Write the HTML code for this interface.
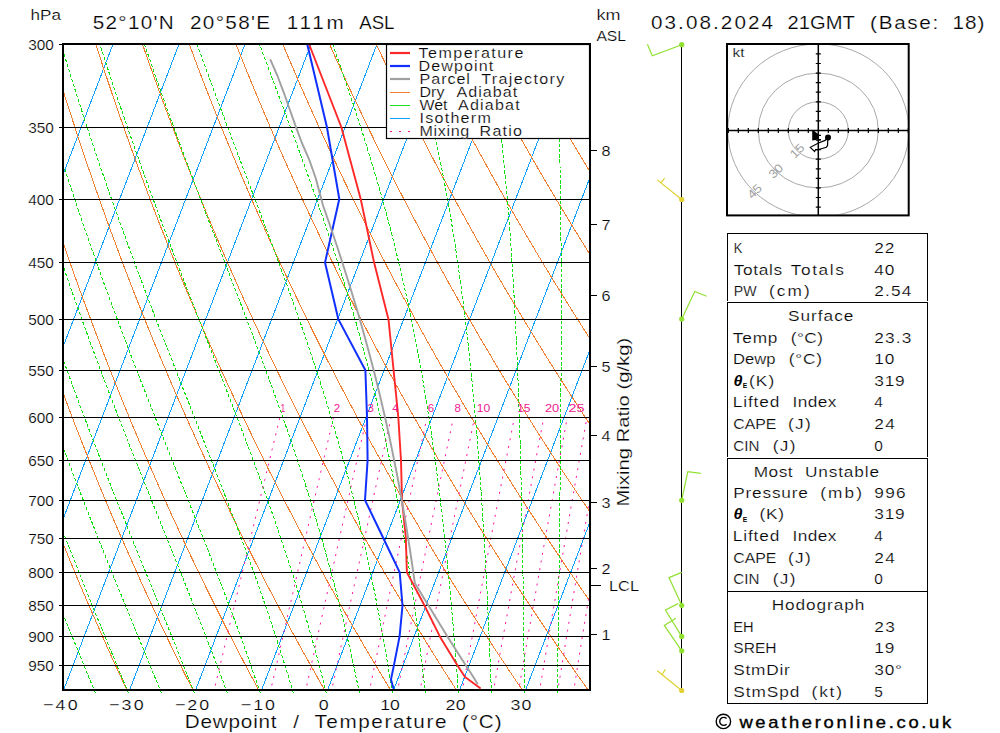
<!DOCTYPE html>
<html><head><meta charset="utf-8"><style>
html,body{margin:0;padding:0;background:#fff;width:1000px;height:733px;overflow:hidden}
svg{display:block}
text{font-family:"Liberation Sans",sans-serif;stroke:#fff;stroke-width:0.2px}
text.ft{stroke:#000;stroke-width:0.35px}
text.ne{stroke:none}
</style></head><body>
<svg width="1000" height="733" viewBox="0 0 1000 733"><defs><clipPath id="pc"><rect x="63" y="44" width="527" height="645.5"/></clipPath><clipPath id="pc2"><rect x="63" y="44" width="527" height="650.5"/></clipPath></defs>
<g clip-path="url(#pc)" stroke="#10a0ff" stroke-width="1" fill="none" shape-rendering="crispEdges"><line x1="-468.2" y1="700" x2="-215.4" y2="40"/><line x1="-402.2" y1="700" x2="-149.4" y2="40"/><line x1="-336.2" y1="700" x2="-83.4" y2="40"/><line x1="-270.2" y1="700" x2="-17.4" y2="40"/><line x1="-204.2" y1="700" x2="48.6" y2="40"/><line x1="-138.2" y1="700" x2="114.6" y2="40"/><line x1="-72.2" y1="700" x2="180.6" y2="40"/><line x1="-6.2" y1="700" x2="246.6" y2="40"/><line x1="59.8" y1="700" x2="312.6" y2="40"/><line x1="125.8" y1="700" x2="378.6" y2="40"/><line x1="191.8" y1="700" x2="444.6" y2="40"/><line x1="257.8" y1="700" x2="510.6" y2="40"/><line x1="323.8" y1="700" x2="576.6" y2="40"/><line x1="389.8" y1="700" x2="642.6" y2="40"/><line x1="455.8" y1="700" x2="708.6" y2="40"/><line x1="521.8" y1="700" x2="774.6" y2="40"/><line x1="587.8" y1="700" x2="840.6" y2="40"/><line x1="653.8" y1="700" x2="906.6" y2="40"/></g>
<g clip-path="url(#pc)" stroke="#f08030" stroke-width="1" fill="none" shape-rendering="crispEdges"><polyline points="-138,44.2 -133.5,66.6 -128.9,89 -124.1,111.3 -119.1,133.7 -114,156.1 -108.8,178.5 -103.3,200.8 -97.7,223.2 -92,245.6 -86,268 -79.9,290.4 -73.6,312.7 -67.1,335.1 -60.5,357.5 -53.6,379.9 -46.6,402.2 -39.4,424.6 -32,447 -24.4,469.4 -16.7,491.7 -8.7,514.1 -0.5,536.5 7.8,558.9 16.4,581.3 25.2,603.6 34.2,626 43.4,648.4 52.8,670.8 62.4,693.1" /><polyline points="-91.2,44.2 -86.2,66.6 -81,89 -75.6,111.3 -70.1,133.7 -64.4,156.1 -58.6,178.5 -52.5,200.8 -46.3,223.2 -39.9,245.6 -33.4,268 -26.6,290.4 -19.7,312.7 -12.6,335.1 -5.3,357.5 2.2,379.9 9.9,402.2 17.8,424.6 25.9,447 34.2,469.4 42.6,491.7 51.3,514.1 60.2,536.5 69.3,558.9 78.6,581.3 88.1,603.6 97.9,626 107.8,648.4 118,670.8 128.4,693.1" /><polyline points="-44.5,44.2 -38.9,66.6 -33.1,89 -27.2,111.3 -21.1,133.7 -14.8,156.1 -8.4,178.5 -1.7,200.8 5.1,223.2 12.1,245.6 19.3,268 26.7,290.4 34.2,312.7 42,335.1 50,357.5 58.1,379.9 66.5,402.2 75,424.6 83.8,447 92.8,469.4 101.9,491.7 111.3,514.1 120.9,536.5 130.8,558.9 140.8,581.3 151.1,603.6 161.6,626 172.3,648.4 183.2,670.8 194.4,693.1" /><polyline points="2.3,44.2 8.4,66.6 14.7,89 21.2,111.3 27.9,133.7 34.8,156.1 41.8,178.5 49.1,200.8 56.5,223.2 64.1,245.6 71.9,268 79.9,290.4 88.2,312.7 96.6,335.1 105.2,357.5 114,379.9 123,402.2 132.2,424.6 141.7,447 151.4,469.4 161.2,491.7 171.3,514.1 181.7,536.5 192.2,558.9 203,581.3 214,603.6 225.2,626 236.7,648.4 248.4,670.8 260.4,693.1" /><polyline points="49,44.2 55.7,66.6 62.6,89 69.7,111.3 77,133.7 84.4,156.1 92.1,178.5 99.9,200.8 107.9,223.2 116.2,245.6 124.6,268 133.2,290.4 142.1,312.7 151.1,335.1 160.4,357.5 169.9,379.9 179.6,402.2 189.5,424.6 199.6,447 209.9,469.4 220.5,491.7 231.3,514.1 242.4,536.5 253.7,558.9 265.2,581.3 276.9,603.6 288.9,626 301.2,648.4 313.7,670.8 326.4,693.1" /><polyline points="95.8,44.2 103,66.6 110.5,89 118.1,111.3 126,133.7 134,156.1 142.3,178.5 150.7,200.8 159.3,223.2 168.2,245.6 177.2,268 186.5,290.4 196,312.7 205.7,335.1 215.6,357.5 225.7,379.9 236.1,402.2 246.7,424.6 257.5,447 268.5,469.4 279.8,491.7 291.4,514.1 303.1,536.5 315.1,558.9 327.4,581.3 339.9,603.6 352.6,626 365.6,648.4 378.9,670.8 392.4,693.1" /><polyline points="142.5,44.2 150.3,66.6 158.4,89 166.6,111.3 175,133.7 183.6,156.1 192.5,178.5 201.5,200.8 210.7,223.2 220.2,245.6 229.9,268 239.8,290.4 249.9,312.7 260.2,335.1 270.8,357.5 281.6,379.9 292.6,402.2 303.9,424.6 315.4,447 327.1,469.4 339.1,491.7 351.4,514.1 363.8,536.5 376.6,558.9 389.6,581.3 402.8,603.6 416.3,626 430.1,648.4 444.1,670.8 458.4,693.1" /><polyline points="189.3,44.2 197.6,66.6 206.2,89 215,111.3 224,133.7 233.2,156.1 242.7,178.5 252.3,200.8 262.2,223.2 272.2,245.6 282.5,268 293.1,290.4 303.8,312.7 314.8,335.1 326,357.5 337.5,379.9 349.2,402.2 361.1,424.6 373.3,447 385.7,469.4 398.4,491.7 411.4,514.1 424.6,536.5 438,558.9 451.7,581.3 465.7,603.6 480,626 494.5,648.4 509.3,670.8 524.4,693.1" /><polyline points="236,44.2 244.9,66.6 254.1,89 263.5,111.3 273,133.7 282.8,156.1 292.9,178.5 303.1,200.8 313.6,223.2 324.3,245.6 335.2,268 346.3,290.4 357.7,312.7 369.4,335.1 381.2,357.5 393.4,379.9 405.7,402.2 418.3,424.6 431.2,447 444.3,469.4 457.7,491.7 471.4,514.1 485.3,536.5 499.5,558.9 513.9,581.3 528.7,603.6 543.7,626 559,648.4 574.5,670.8 590.4,693.1" /><polyline points="282.7,44.2 292.3,66.6 302,89 311.9,111.3 322.1,133.7 332.5,156.1 343.1,178.5 353.9,200.8 365,223.2 376.3,245.6 387.8,268 399.6,290.4 411.7,312.7 423.9,335.1 436.5,357.5 449.2,379.9 462.3,402.2 475.6,424.6 489.1,447 502.9,469.4 517,491.7 531.4,514.1 546,536.5 560.9,558.9 576.1,581.3 591.6,603.6 607.4,626 623.4,648.4 639.8,670.8 656.4,693.1" /><polyline points="329.5,44.2 339.6,66.6 349.8,89 360.4,111.3 371.1,133.7 382.1,156.1 393.3,178.5 404.7,200.8 416.4,223.2 428.3,245.6 440.5,268 452.9,290.4 465.6,312.7 478.5,335.1 491.7,357.5 505.1,379.9 518.8,402.2 532.8,424.6 547,447 561.5,469.4 576.3,491.7 591.4,514.1 606.7,536.5 622.4,558.9 638.3,581.3 654.5,603.6 671,626 687.9,648.4 705,670.8 722.4,693.1" /><polyline points="376.2,44.2 386.9,66.6 397.7,89 408.8,111.3 420.1,133.7 431.7,156.1 443.5,178.5 455.5,200.8 467.8,223.2 480.3,245.6 493.1,268 506.2,290.4 519.5,312.7 533.1,335.1 546.9,357.5 561,379.9 575.4,402.2 590,424.6 604.9,447 620.1,469.4 635.6,491.7 651.4,514.1 667.5,536.5 683.8,558.9 700.5,581.3 717.5,603.6 734.7,626 752.3,648.4 770.2,670.8 788.4,693.1" /><polyline points="423,44.2 434.2,66.6 445.6,89 457.2,111.3 469.1,133.7 481.3,156.1 493.7,178.5 506.3,200.8 519.2,223.2 532.4,245.6 545.8,268 559.5,290.4 573.4,312.7 587.6,335.1 602.1,357.5 616.9,379.9 631.9,402.2 647.2,424.6 662.8,447 678.7,469.4 694.9,491.7 711.4,514.1 728.2,536.5 745.3,558.9 762.7,581.3 780.4,603.6 798.4,626 816.8,648.4 835.4,670.8 854.4,693.1" /><polyline points="469.7,44.2 481.5,66.6 493.5,89 505.7,111.3 518.2,133.7 530.9,156.1 543.9,178.5 557.1,200.8 570.6,223.2 584.4,245.6 598.4,268 612.7,290.4 627.3,312.7 642.2,335.1 657.3,357.5 672.7,379.9 688.5,402.2 704.5,424.6 720.7,447 737.3,469.4 754.2,491.7 771.4,514.1 788.9,536.5 806.7,558.9 824.9,581.3 843.3,603.6 862.1,626 881.2,648.4 900.6,670.8 920.4,693.1" /><polyline points="516.5,44.2 528.8,66.6 541.3,89 554.1,111.3 567.2,133.7 580.5,156.1 594.1,178.5 607.9,200.8 622,223.2 636.4,245.6 651.1,268 666,290.4 681.2,312.7 696.7,335.1 712.5,357.5 728.6,379.9 745,402.2 761.7,424.6 778.7,447 795.9,469.4 813.5,491.7 831.4,514.1 849.7,536.5 868.2,558.9 887.1,581.3 906.3,603.6 925.8,626 945.7,648.4 965.9,670.8 986.4,693.1" /><polyline points="563.2,44.2 576.1,66.6 589.2,89 602.6,111.3 616.2,133.7 630.1,156.1 644.3,178.5 658.7,200.8 673.5,223.2 688.5,245.6 703.7,268 719.3,290.4 735.2,312.7 751.3,335.1 767.8,357.5 784.5,379.9 801.5,402.2 818.9,424.6 836.6,447 854.5,469.4 872.8,491.7 891.4,514.1 910.4,536.5 929.7,558.9 949.3,581.3 969.2,603.6 989.5,626 1010.1,648.4 1031.1,670.8 1052.4,693.1" /><polyline points="610,44.2 623.4,66.6 637.1,89 651,111.3 665.2,133.7 679.7,156.1 694.5,178.5 709.5,200.8 724.9,223.2 740.5,245.6 756.4,268 772.6,290.4 789.1,312.7 805.9,335.1 823,357.5 840.4,379.9 858.1,402.2 876.1,424.6 894.5,447 913.1,469.4 932.1,491.7 951.5,514.1 971.1,536.5 991.1,558.9 1011.4,581.3 1032.1,603.6 1053.2,626 1074.6,648.4 1096.3,670.8 1118.4,693.1" /><polyline points="656.7,44.2 670.7,66.6 684.9,89 699.5,111.3 714.3,133.7 729.3,156.1 744.7,178.5 760.3,200.8 776.3,223.2 792.5,245.6 809,268 825.9,290.4 843,312.7 860.4,335.1 878.2,357.5 896.2,379.9 914.6,402.2 933.3,424.6 952.4,447 971.7,469.4 991.4,491.7 1011.5,514.1 1031.8,536.5 1052.6,558.9 1073.6,581.3 1095.1,603.6 1116.9,626 1139,648.4 1161.5,670.8 1184.4,693.1" /><polyline points="703.5,44.2 718,66.6 732.8,89 747.9,111.3 763.3,133.7 778.9,156.1 794.9,178.5 811.1,200.8 827.7,223.2 844.5,245.6 861.7,268 879.1,290.4 896.9,312.7 915,335.1 933.4,357.5 952.1,379.9 971.2,402.2 990.6,424.6 1010.3,447 1030.3,469.4 1050.7,491.7 1071.5,514.1 1092.6,536.5 1114,558.9 1135.8,581.3 1158,603.6 1180.5,626 1203.5,648.4 1226.7,670.8 1250.4,693.1" /><polyline points="750.2,44.2 765.3,66.6 780.7,89 796.3,111.3 812.3,133.7 828.6,156.1 845.1,178.5 862,200.8 879.1,223.2 896.6,245.6 914.3,268 932.4,290.4 950.8,312.7 969.6,335.1 988.6,357.5 1008,379.9 1027.7,402.2 1047.8,424.6 1068.2,447 1088.9,469.4 1110,491.7 1131.5,514.1 1153.3,536.5 1175.5,558.9 1198,581.3 1220.9,603.6 1244.2,626 1267.9,648.4 1292,670.8 1316.4,693.1" /><polyline points="796.9,44.2 812.6,66.6 828.6,89 844.8,111.3 861.3,133.7 878.2,156.1 895.3,178.5 912.8,200.8 930.5,223.2 948.6,245.6 967,268 985.7,290.4 1004.7,312.7 1024.1,335.1 1043.8,357.5 1063.9,379.9 1084.3,402.2 1105,424.6 1126.1,447 1147.5,469.4 1169.3,491.7 1191.5,514.1 1214,536.5 1236.9,558.9 1260.2,581.3 1283.9,603.6 1307.9,626 1332.4,648.4 1357.2,670.8 1382.4,693.1" /><polyline points="843.7,44.2 859.9,66.6 876.4,89 893.2,111.3 910.4,133.7 927.8,156.1 945.5,178.5 963.6,200.8 981.9,223.2 1000.6,245.6 1019.6,268 1039,290.4 1058.7,312.7 1078.7,335.1 1099,357.5 1119.8,379.9 1140.8,402.2 1162.2,424.6 1184,447 1206.1,469.4 1228.6,491.7 1251.5,514.1 1274.7,536.5 1298.4,558.9 1322.4,581.3 1346.8,603.6 1371.6,626 1396.8,648.4 1422.4,670.8 1448.4,693.1" /><polyline points="890.4,44.2 907.2,66.6 924.3,89 941.7,111.3 959.4,133.7 977.4,156.1 995.7,178.5 1014.4,200.8 1033.3,223.2 1052.6,245.6 1072.3,268 1092.3,290.4 1112.6,312.7 1133.2,335.1 1154.3,357.5 1175.6,379.9 1197.4,402.2 1219.4,424.6 1241.9,447 1264.7,469.4 1287.9,491.7 1311.5,514.1 1335.5,536.5 1359.8,558.9 1384.6,581.3 1409.7,603.6 1435.3,626 1461.2,648.4 1487.6,670.8 1514.4,693.1" /><polyline points="937.2,44.2 954.5,66.6 972.2,89 990.1,111.3 1008.4,133.7 1027,156.1 1045.9,178.5 1065.2,200.8 1084.8,223.2 1104.7,245.6 1124.9,268 1145.5,290.4 1166.5,312.7 1187.8,335.1 1209.5,357.5 1231.5,379.9 1253.9,402.2 1276.7,424.6 1299.8,447 1323.3,469.4 1347.2,491.7 1371.5,514.1 1396.2,536.5 1421.3,558.9 1446.8,581.3 1472.7,603.6 1499,626 1525.7,648.4 1552.8,670.8 1580.4,693.1" /></g>
<g clip-path="url(#pc2)" stroke="#10e010" stroke-width="1" fill="none" stroke-dasharray="3.3,1.9" shape-rendering="crispEdges"><polyline points="62.4,693.1 54.4,673.6 46.5,654 38.8,634.4 31.1,614.9 23.5,595.3 16.1,575.7 8.8,556.2 1.6,536.6 -5.5,517 -12.4,497.5 -19.1,477.9 -25.8,458.3 -32.3,438.8 -38.7,419.2 -44.9,399.7 -51,380.1 -56.9,360.5 -62.7,341 -68.4,321.4 -74,301.8 -79.4,282.3 -84.7,262.7 -89.8,243.1 -94.8,223.6 -99.7,204 -104.5,184.4 -109.1,164.9 -113.6,145.3 -118,125.7 -122.3,106.2 -126.4,86.6 -130.5,67 -134.4,47.5 -135,44.2" /><polyline points="95.4,693.1 87.3,673.6 79.3,654 71.3,634.4 63.4,614.9 55.7,595.3 48,575.7 40.4,556.2 33,536.6 25.7,517 18.5,497.5 11.4,477.9 4.5,458.3 -2.3,438.8 -9,419.2 -15.5,399.7 -21.8,380.1 -28.1,360.5 -34.2,341 -40.2,321.4 -46,301.8 -51.7,282.3 -57.3,262.7 -62.7,243.1 -68,223.6 -73.2,204 -78.2,184.4 -83.1,164.9 -87.9,145.3 -92.5,125.7 -97.1,106.2 -101.5,86.6 -105.8,67 -109.9,47.5 -110.6,44.2" /><polyline points="128.4,693.1 120.3,673.6 112.2,654 104.2,634.4 96.1,614.9 88.2,595.3 80.4,575.7 72.6,556.2 64.9,536.6 57.4,517 49.9,497.5 42.6,477.9 35.4,458.3 28.3,438.8 21.4,419.2 14.6,399.7 7.9,380.1 1.4,360.5 -5,341 -11.3,321.4 -17.4,301.8 -23.4,282.3 -29.2,262.7 -35,243.1 -40.5,223.6 -46,204 -51.3,184.4 -56.5,164.9 -61.5,145.3 -66.5,125.7 -71.3,106.2 -75.9,86.6 -80.5,67 -84.9,47.5 -85.6,44.2" /><polyline points="161.4,693.1 153.4,673.6 145.4,654 137.3,634.4 129.3,614.9 121.3,595.3 113.3,575.7 105.4,556.2 97.6,536.6 89.8,517 82.2,497.5 74.6,477.9 67.2,458.3 59.8,438.8 52.6,419.2 45.5,399.7 38.6,380.1 31.8,360.5 25.1,341 18.5,321.4 12.1,301.8 5.8,282.3 -0.3,262.7 -6.3,243.1 -12.2,223.6 -17.9,204 -23.5,184.4 -29,164.9 -34.3,145.3 -39.5,125.7 -44.6,106.2 -49.5,86.6 -54.4,67 -59.1,47.5 -59.8,44.2" /><polyline points="194.4,693.1 186.7,673.6 178.9,654 171,634.4 163.1,614.9 155.1,595.3 147.1,575.7 139.2,556.2 131.2,536.6 123.4,517 115.5,497.5 107.8,477.9 100.1,458.3 92.6,438.8 85.1,419.2 77.8,399.7 70.6,380.1 63.5,360.5 56.5,341 49.7,321.4 42.9,301.8 36.4,282.3 29.9,262.7 23.6,243.1 17.5,223.6 11.4,204 5.5,184.4 -0.2,164.9 -5.9,145.3 -11.4,125.7 -16.7,106.2 -22,86.6 -27.1,67 -32,47.5 -32.8,44.2" /><polyline points="227.4,693.1 220.1,673.6 212.7,654 205.1,634.4 197.5,614.9 189.7,595.3 181.9,575.7 174,556.2 166.2,536.6 158.3,517 150.4,497.5 142.5,477.9 134.7,458.3 127,438.8 119.4,419.2 111.8,399.7 104.3,380.1 97,360.5 89.7,341 82.6,321.4 75.6,301.8 68.7,282.3 62,262.7 55.4,243.1 48.9,223.6 42.6,204 36.4,184.4 30.3,164.9 24.4,145.3 18.6,125.7 12.9,106.2 7.4,86.6 2,67 -3.3,47.5 -4.2,44.2" /><polyline points="260.4,693.1 253.7,673.6 246.9,654 239.9,634.4 232.7,614.9 225.3,595.3 217.8,575.7 210.3,556.2 202.6,536.6 194.8,517 187.1,497.5 179.2,477.9 171.4,458.3 163.6,438.8 155.9,419.2 148.2,399.7 140.5,380.1 132.9,360.5 125.5,341 118.1,321.4 110.8,301.8 103.6,282.3 96.6,262.7 89.7,243.1 82.9,223.6 76.2,204 69.7,184.4 63.3,164.9 57,145.3 50.9,125.7 44.9,106.2 39.1,86.6 33.4,67 27.8,47.5 26.9,44.2" /><polyline points="293.4,693.1 287.5,673.6 281.4,654 275.1,634.4 268.6,614.9 261.9,595.3 255,575.7 247.9,556.2 240.7,536.6 233.3,517 225.8,497.5 218.3,477.9 210.6,458.3 202.9,438.8 195.2,419.2 187.5,399.7 179.7,380.1 172.1,360.5 164.4,341 156.8,321.4 149.3,301.8 141.9,282.3 134.6,262.7 127.4,243.1 120.3,223.6 113.3,204 106.4,184.4 99.7,164.9 93.1,145.3 86.6,125.7 80.3,106.2 74.1,86.6 68,67 62.1,47.5 61.1,44.2" /><polyline points="326.4,693.1 321.4,673.6 316.2,654 310.8,634.4 305.1,614.9 299.2,595.3 293.1,575.7 286.8,556.2 280.3,536.6 273.6,517 266.7,497.5 259.7,477.9 252.5,458.3 245.2,438.8 237.7,419.2 230.2,399.7 222.6,380.1 215,360.5 207.4,341 199.7,321.4 192.1,301.8 184.5,282.3 177,262.7 169.6,243.1 162.2,223.6 154.9,204 147.7,184.4 140.7,164.9 133.7,145.3 126.9,125.7 120.2,106.2 113.6,86.6 107.2,67 100.9,47.5 99.8,44.2" /><polyline points="359.4,693.1 355.4,673.6 351.1,654 346.6,634.4 342,614.9 337.1,595.3 332,575.7 326.7,556.2 321.2,536.6 315.4,517 309.5,497.5 303.3,477.9 296.9,458.3 290.3,438.8 283.5,419.2 276.5,399.7 269.4,380.1 262.2,360.5 254.9,341 247.5,321.4 240,301.8 232.4,282.3 224.9,262.7 217.4,243.1 209.8,223.6 202.4,204 195,184.4 187.6,164.9 180.3,145.3 173.2,125.7 166.1,106.2 159.1,86.6 152.3,67 145.6,47.5 144.5,44.2" /><polyline points="392.4,693.1 389.3,673.6 386,654 382.6,634.4 379,614.9 375.2,595.3 371.2,575.7 367,556.2 362.6,536.6 358,517 353.2,497.5 348.2,477.9 342.9,458.3 337.4,438.8 331.7,419.2 325.8,399.7 319.6,380.1 313.2,360.5 306.7,341 299.9,321.4 293,301.8 286,282.3 278.8,262.7 271.5,243.1 264.2,223.6 256.8,204 249.3,184.4 241.9,164.9 234.5,145.3 227.1,125.7 219.8,106.2 212.5,86.6 205.3,67 198.2,47.5 197,44.2" /><polyline points="425.4,693.1 423.2,673.6 420.8,654 418.4,634.4 415.8,614.9 413,595.3 410.2,575.7 407.1,556.2 403.9,536.6 400.6,517 397,497.5 393.3,477.9 389.4,458.3 385.2,438.8 380.9,419.2 376.3,399.7 371.5,380.1 366.4,360.5 361.2,341 355.7,321.4 349.9,301.8 344,282.3 337.8,262.7 331.4,243.1 324.8,223.6 318.1,204 311.2,184.4 304.2,164.9 297.1,145.3 289.9,125.7 282.6,106.2 275.3,86.6 268,67 260.7,47.5 259.5,44.2" /><polyline points="458.4,693.1 457,673.6 455.5,654 453.9,634.4 452.2,614.9 450.4,595.3 448.6,575.7 446.6,556.2 444.5,536.6 442.3,517 440,497.5 437.5,477.9 434.9,458.3 432.2,438.8 429.2,419.2 426.1,399.7 422.9,380.1 419.4,360.5 415.7,341 411.8,321.4 407.7,301.8 403.4,282.3 398.8,262.7 394,243.1 389,223.6 383.7,204 378.2,184.4 372.4,164.9 366.4,145.3 360.3,125.7 353.9,106.2 347.3,86.6 340.6,67 333.8,47.5 332.6,44.2" /><polyline points="491.4,693.1 490.7,673.6 489.9,654 489,634.4 488.1,614.9 487.2,595.3 486.2,575.7 485.1,556.2 484,536.6 482.8,517 481.5,497.5 480.2,477.9 478.7,458.3 477.2,438.8 475.6,419.2 473.8,399.7 471.9,380.1 469.9,360.5 467.8,341 465.5,321.4 463.1,301.8 460.5,282.3 457.8,262.7 454.8,243.1 451.7,223.6 448.4,204 444.8,184.4 441,164.9 437,145.3 432.8,125.7 428.3,106.2 423.6,86.6 418.6,67 413.4,47.5 412.5,44.2" /><polyline points="524.4,693.1 524.2,673.6 524,654 523.8,634.4 523.5,614.9 523.3,595.3 523,575.7 522.7,556.2 522.3,536.6 521.9,517 521.5,497.5 521,477.9 520.5,458.3 520,438.8 519.4,419.2 518.7,399.7 518,380.1 517.2,360.5 516.3,341 515.4,321.4 514.4,301.8 513.2,282.3 512,262.7 510.7,243.1 509.3,223.6 507.7,204 506,184.4 504.2,164.9 502.3,145.3 500.1,125.7 497.9,106.2 495.4,86.6 492.7,67 489.9,47.5 489.4,44.2" /><polyline points="557.4,693.1 557.7,673.6 557.9,654 558.2,634.4 558.4,614.9 558.7,595.3 559,575.7 559.2,556.2 559.5,536.6 559.7,517 559.9,497.5 560.2,477.9 560.4,458.3 560.6,438.8 560.7,419.2 560.9,399.7 561,380.1 561.1,360.5 561.2,341 561.2,321.4 561.2,301.8 561.2,282.3 561.1,262.7 561,243.1 560.8,223.6 560.6,204 560.3,184.4 560,164.9 559.6,145.3 559.1,125.7 558.5,106.2 557.8,86.6 557.1,67 556.2,47.5 556.1,44.2" /></g>
<g clip-path="url(#pc)" stroke="#ff10a0" stroke-width="1" fill="none" stroke-dasharray="2,5.8"><polyline points="213.5,693.1 218.2,673.2 223.2,652.4 228.3,630.9 233.7,608.4 239.3,585 245.2,560.5 251.4,534.8 257.9,507.8 264.8,479.5 272.1,449.5 279.8,417.8" /><polyline points="270,693.1 274.6,673.2 279.3,652.4 284.2,630.9 289.3,608.4 294.7,585 300.3,560.5 306.2,534.8 312.4,507.8 319,479.5 326,449.5 333.4,417.8" /><polyline points="305.2,693.1 309.5,673.2 314.1,652.4 318.8,630.9 323.8,608.4 329,585 334.5,560.5 340.2,534.8 346.3,507.8 352.6,479.5 359.4,449.5 366.6,417.8" /><polyline points="331.1,693.1 335.3,673.2 339.8,652.4 344.4,630.9 349.2,608.4 354.3,585 359.7,560.5 365.3,534.8 371.2,507.8 377.4,479.5 384,449.5 391.1,417.8" /><polyline points="369,693.1 373.1,673.2 377.4,652.4 381.9,630.9 386.5,608.4 391.4,585 396.6,560.5 402,534.8 407.7,507.8 413.7,479.5 420.1,449.5 426.9,417.8" /><polyline points="397.1,693.1 401,673.2 405.2,652.4 409.5,630.9 414.1,608.4 418.8,585 423.8,560.5 429.1,534.8 434.6,507.8 440.5,479.5 446.7,449.5 453.4,417.8" /><polyline points="419.5,693.1 423.4,673.2 427.4,652.4 431.6,630.9 436.1,608.4 440.7,585 445.6,560.5 450.7,534.8 456.2,507.8 461.9,479.5 468,449.5 474.5,417.8" /><polyline points="461.8,693.1 465.5,673.2 469.3,652.4 473.4,630.9 477.6,608.4 482,585 486.7,560.5 491.6,534.8 496.7,507.8 502.2,479.5 508.1,449.5 514.3,417.8" /><polyline points="493.1,693.1 496.6,673.2 500.3,652.4 504.2,630.9 508.3,608.4 512.5,585 517,560.5 521.8,534.8 526.8,507.8 532.1,479.5 537.7,449.5 543.7,417.8" /><polyline points="518.2,693.1 521.6,673.2 525.2,652.4 528.9,630.9 532.9,608.4 537,585 541.3,560.5 545.9,534.8 550.8,507.8 555.9,479.5 561.4,449.5 567.2,417.8" /><polyline points="539.2,693.1 542.5,673.2 546,652.4 549.6,630.9 553.5,608.4 557.5,585 561.7,560.5 566.2,534.8 570.9,507.8 575.9,479.5 581.2,449.5 586.9,417.8" /><polyline points="557.3,693.1 560.6,673.2 564,652.4 567.5,630.9 571.3,608.4 575.2,585 579.3,560.5 583.7,534.8 588.3,507.8 593.2,479.5 598.4,449.5 604,417.8" /><polyline points="573.4,693.1 576.5,673.2 579.8,652.4 583.3,630.9 587,608.4 590.8,585 594.8,560.5 599.1,534.8 603.6,507.8 608.4,479.5 613.5,449.5 619,417.8" /></g>
<g stroke="#000" stroke-width="1"><line x1="59" y1="44.5" x2="590" y2="44.5"/><line x1="59" y1="127.5" x2="590" y2="127.5"/><line x1="59" y1="199.5" x2="590" y2="199.5"/><line x1="59" y1="262.5" x2="590" y2="262.5"/><line x1="59" y1="319.5" x2="590" y2="319.5"/><line x1="59" y1="370.5" x2="590" y2="370.5"/><line x1="59" y1="417.5" x2="590" y2="417.5"/><line x1="59" y1="460.5" x2="590" y2="460.5"/><line x1="59" y1="500.5" x2="590" y2="500.5"/><line x1="59" y1="538.5" x2="590" y2="538.5"/><line x1="59" y1="572.5" x2="590" y2="572.5"/><line x1="59" y1="605.5" x2="590" y2="605.5"/><line x1="59" y1="636.5" x2="590" y2="636.5"/><line x1="59" y1="665.5" x2="590" y2="665.5"/></g>
<g fill="none" stroke-linejoin="round" stroke-linecap="round">
<polyline points="309,44 341.3,127 360.7,199 374.1,262.6 388.5,319.4 393.6,370.3 398.3,417 401,460.2 402,500.1 405.8,537.5 406.9,572.4 424.5,605.5 439.8,636.4 457.5,665.4 465,677 480,688" stroke="#ff2828" stroke-width="1.9"/>
<polyline points="307.2,44 326.9,127 339.3,199 325,262.6 338.4,319.4 365.4,370.3 367,417 367.6,460.2 365,500.1 383,537.5 399.7,572.4 402.5,605.5 399.6,636.4 393.9,665.4 391,679.4 393.3,688" stroke="#1030ff" stroke-width="2"/>
<polyline points="270.6,60.1 277.3,75.5 283.5,91.8 288.6,106.2 295.8,126.6 301.9,143 309.1,159.4 315.6,177.8 321.4,199.3 322.9,205 330.2,226 337.3,247 344.1,268 350.7,289 357.1,310 363.1,331 368.9,352 374.4,373 379.6,394 384.5,415 389.2,436 393.5,457 397.7,478 401.5,499 405.2,520 408.6,541 411.8,562 414.8,583 424.6,599.2 432.3,611.8 439.9,624.2 447.4,636.4 454.9,648.2 462.2,659.8 469.5,671.1 477.4,683.4" stroke="#a0a0a0" stroke-width="1.9"/>
</g>
<rect x="63" y="44" width="527" height="646" fill="none" stroke="#000" stroke-width="2"/>
<g stroke="#000" stroke-width="1"><line x1="59" y1="44.5" x2="63" y2="44.5"/><line x1="59" y1="127.5" x2="63" y2="127.5"/><line x1="59" y1="199.5" x2="63" y2="199.5"/><line x1="59" y1="262.5" x2="63" y2="262.5"/><line x1="59" y1="319.5" x2="63" y2="319.5"/><line x1="59" y1="370.5" x2="63" y2="370.5"/><line x1="59" y1="417.5" x2="63" y2="417.5"/><line x1="59" y1="460.5" x2="63" y2="460.5"/><line x1="59" y1="500.5" x2="63" y2="500.5"/><line x1="59" y1="538.5" x2="63" y2="538.5"/><line x1="59" y1="572.5" x2="63" y2="572.5"/><line x1="59" y1="605.5" x2="63" y2="605.5"/><line x1="59" y1="636.5" x2="63" y2="636.5"/><line x1="59" y1="665.5" x2="63" y2="665.5"/></g>
<rect x="386.5" y="44.5" width="203" height="94" fill="#fff" stroke="#000" stroke-width="1.2"/>
<line x1="390" y1="53" x2="410" y2="53" stroke="#ff2828" stroke-width="2.2"/>
<text transform="translate(418.6,58.4) scale(1.15,1)" font-size="14" textLength="91.1" lengthAdjust="spacing" >Temperature</text>
<line x1="390" y1="66" x2="410" y2="66" stroke="#1030ff" stroke-width="2.2"/>
<text transform="translate(418.6,71.4) scale(1.15,1)" font-size="14" textLength="64.9" lengthAdjust="spacing" >Dewpoint</text>
<line x1="390" y1="79" x2="410" y2="79" stroke="#a0a0a0" stroke-width="2.2"/>
<text transform="translate(419.6,84) scale(1.15,1)" font-size="14" textLength="43.8" lengthAdjust="spacing" >Parcel</text><text transform="translate(481.2,84) scale(1.15,1)" font-size="14" textLength="72.3" lengthAdjust="spacing" >Trajectory</text>
<line x1="390" y1="92.5" x2="410" y2="92.5" stroke="#f08030" stroke-width="1"/>
<text transform="translate(419.6,97.1) scale(1.1390679048671593,1)" font-size="14" textLength="21.8" lengthAdjust="spacing" >Dry</text><text transform="translate(456.4,97.1) scale(1.15,1)" font-size="14" textLength="52.9" lengthAdjust="spacing" >Adiabat</text>
<line x1="390" y1="105.5" x2="410" y2="105.5" stroke="#20e020" stroke-width="1"/>
<text transform="translate(419.6,109.7) scale(1.1365654413070503,1)" font-size="14" textLength="24.6" lengthAdjust="spacing" >Wet</text><text transform="translate(458,109.7) scale(1.15,1)" font-size="14" textLength="53.6" lengthAdjust="spacing" >Adiabat</text>
<line x1="390" y1="118.5" x2="410" y2="118.5" stroke="#10a0ff" stroke-width="1"/>
<text transform="translate(419.6,122.8) scale(1.15,1)" font-size="14" textLength="61.9" lengthAdjust="spacing" >Isotherm</text>
<line x1="390" y1="131.5" x2="410" y2="131.5" stroke="#ff1090" stroke-width="1.2" stroke-dasharray="2,7"/>
<text transform="translate(419.6,135.8) scale(1.15,1)" font-size="14" textLength="43.1" lengthAdjust="spacing" >Mixing</text><text transform="translate(479.6,135.8) scale(1.15,1)" font-size="14" textLength="36.9" lengthAdjust="spacing" >Ratio</text>
<text transform="translate(28.2,50.4) scale(0.9900086710354182,1)" font-size="15.5" textLength="25.9" lengthAdjust="spacing" >300</text>
<text transform="translate(28.2,133.4) scale(0.9900086710354182,1)" font-size="15.5" textLength="25.9" lengthAdjust="spacing" >350</text>
<text transform="translate(28.2,205.4) scale(0.9900086710354182,1)" font-size="15.5" textLength="25.9" lengthAdjust="spacing" >400</text>
<text transform="translate(28.2,268.4) scale(0.9900086710354182,1)" font-size="15.5" textLength="25.9" lengthAdjust="spacing" >450</text>
<text transform="translate(28.2,325.4) scale(0.9900086710354182,1)" font-size="15.5" textLength="25.9" lengthAdjust="spacing" >500</text>
<text transform="translate(28.2,376.4) scale(0.9900086710354182,1)" font-size="15.5" textLength="25.9" lengthAdjust="spacing" >550</text>
<text transform="translate(28.2,423.4) scale(0.9900086710354182,1)" font-size="15.5" textLength="25.9" lengthAdjust="spacing" >600</text>
<text transform="translate(28.2,466.4) scale(0.9900086710354182,1)" font-size="15.5" textLength="25.9" lengthAdjust="spacing" >650</text>
<text transform="translate(28.2,506.4) scale(0.9900086710354182,1)" font-size="15.5" textLength="25.9" lengthAdjust="spacing" >700</text>
<text transform="translate(28.2,544.4) scale(0.9900086710354182,1)" font-size="15.5" textLength="25.9" lengthAdjust="spacing" >750</text>
<text transform="translate(28.2,578.4) scale(0.9900086710354182,1)" font-size="15.5" textLength="25.9" lengthAdjust="spacing" >800</text>
<text transform="translate(28.2,611.4) scale(0.9900086710354182,1)" font-size="15.5" textLength="25.9" lengthAdjust="spacing" >850</text>
<text transform="translate(28.2,642.4) scale(0.9900086710354182,1)" font-size="15.5" textLength="25.9" lengthAdjust="spacing" >900</text>
<text transform="translate(28.2,671.4) scale(0.9900086710354182,1)" font-size="15.5" textLength="25.9" lengthAdjust="spacing" >950</text>
<text x="30.6" y="19.7" font-size="15" textLength="30.4" lengthAdjust="spacingAndGlyphs" >hPa</text>
<text transform="translate(43,710) scale(1.15,1)" font-size="15.5" textLength="30.1" lengthAdjust="spacing" >−40</text>
<text transform="translate(109,710) scale(1.15,1)" font-size="15.5" textLength="30.1" lengthAdjust="spacing" >−30</text>
<text transform="translate(175,710) scale(1.15,1)" font-size="15.5" textLength="29.6" lengthAdjust="spacing" >−20</text>
<text transform="translate(240.8,710) scale(1.15,1)" font-size="15.5" textLength="29.7" lengthAdjust="spacing" >−10</text>
<text transform="translate(323.8,710) scale(1.15,1)" font-size="15.5" text-anchor="middle" >0</text>
<text transform="translate(380.3,710) scale(1.1369630831422364,1)" font-size="15.5" textLength="17.2" lengthAdjust="spacing" >10</text>
<text transform="translate(445.4,710) scale(1.15,1)" font-size="15.5" textLength="17.6" lengthAdjust="spacing" >20</text>
<text transform="translate(510.5,710) scale(1.15,1)" font-size="15.5" textLength="18.1" lengthAdjust="spacing" >30</text>
<text transform="translate(184.8,727.8) scale(1.15,1)" font-size="18" textLength="79.8" lengthAdjust="spacing" >Dewpoint</text><text transform="translate(296.1,727.8) scale(1.15,1)" font-size="18" text-anchor="middle" >/</text><text transform="translate(314.4,727.8) scale(1.15,1)" font-size="18" textLength="114.8" lengthAdjust="spacing" >Temperature</text><text transform="translate(462,727.8) scale(1.15,1)" font-size="18" textLength="34.4" lengthAdjust="spacing" >(°C)</text>
<text transform="translate(92.7,29) scale(1.15,1)" font-size="18" textLength="70.5" lengthAdjust="spacing" >52°10'N</text><text transform="translate(189.9,29) scale(1.15,1)" font-size="18" textLength="69.8" lengthAdjust="spacing" >20°58'E</text><text transform="translate(286.7,29) scale(1.15,1)" font-size="18" textLength="49.7" lengthAdjust="spacing" >111m</text><text transform="translate(359.3,29) scale(1.03459994672692,1)" font-size="18" textLength="34" lengthAdjust="spacing" >ASL</text>
<text transform="translate(651,29) scale(1.15,1)" font-size="18" textLength="106.1" lengthAdjust="spacing" >03.08.2024</text><text transform="translate(787.6,29) scale(1.1181935591384413,1)" font-size="18" textLength="60" lengthAdjust="spacing" >21GMT</text><text transform="translate(870.1,29) scale(1.15,1)" font-size="18" textLength="59.3" lengthAdjust="spacing" >(Base:</text><text transform="translate(952.6,29) scale(1.15,1)" font-size="18" textLength="27.7" lengthAdjust="spacing" >18)</text>
<text x="596.4" y="20" font-size="15" textLength="24" lengthAdjust="spacingAndGlyphs" >km</text>
<text x="596.4" y="41" font-size="15" textLength="29.6" lengthAdjust="spacingAndGlyphs" >ASL</text>
<text transform="translate(606,640.1) scale(1.0441497702326679,1)" font-size="15.5" text-anchor="middle" >1</text>
<text transform="translate(606,574.1) scale(1.0441497702326679,1)" font-size="15.5" text-anchor="middle" >2</text>
<text transform="translate(606,508.1) scale(1.0441497702326679,1)" font-size="15.5" text-anchor="middle" >3</text>
<text transform="translate(606,441.1) scale(1.0441497702326679,1)" font-size="15.5" text-anchor="middle" >4</text>
<text transform="translate(606,372.1) scale(1.0441497702326679,1)" font-size="15.5" text-anchor="middle" >5</text>
<text transform="translate(606,301.1) scale(1.0441497702326679,1)" font-size="15.5" text-anchor="middle" >6</text>
<text transform="translate(606,230.1) scale(1.0441497702326679,1)" font-size="15.5" text-anchor="middle" >7</text>
<text transform="translate(606,156.1) scale(1.0441497702326679,1)" font-size="15.5" text-anchor="middle" >8</text>
<g stroke="#000" stroke-width="1"><line x1="590" y1="634.5" x2="597" y2="634.5"/><line x1="590" y1="568.5" x2="597" y2="568.5"/><line x1="590" y1="502.5" x2="597" y2="502.5"/><line x1="590" y1="435.5" x2="597" y2="435.5"/><line x1="590" y1="366.5" x2="597" y2="366.5"/><line x1="590" y1="295.5" x2="597" y2="295.5"/><line x1="590" y1="224.5" x2="597" y2="224.5"/><line x1="590" y1="150.5" x2="597" y2="150.5"/><line x1="590" y1="585.5" x2="601" y2="585.5"/></g>
<text x="609" y="591" font-size="15" textLength="30" lengthAdjust="spacingAndGlyphs" >LCL</text>
<text transform="translate(629,506.5) rotate(-90)" font-size="17" textLength="168.7" lengthAdjust="spacingAndGlyphs">Mixing Ratio (g/kg)</text>
<text transform="translate(282.8,412.3) scale(0.8631638100590074,1)" font-size="10" text-anchor="middle" fill="#f01890" class="ne">1</text>
<text transform="translate(337,412.3) scale(1.15,1)" font-size="10" text-anchor="middle" fill="#f01890" class="ne">2</text>
<text transform="translate(370.8,412.3) scale(1.15,1)" font-size="10" text-anchor="middle" fill="#f01890" class="ne">3</text>
<text transform="translate(395.4,412.3) scale(1.15,1)" font-size="10" text-anchor="middle" fill="#f01890" class="ne">4</text>
<text transform="translate(431,412.3) scale(1.15,1)" font-size="10" text-anchor="middle" fill="#f01890" class="ne">6</text>
<text transform="translate(457.8,412.3) scale(1.15,1)" font-size="10" text-anchor="middle" fill="#f01890" class="ne">8</text>
<text transform="translate(476.7,412.3) scale(1.15,1)" font-size="10" textLength="11.7" lengthAdjust="spacingAndGlyphs" fill="#f01890" class="ne">10</text>
<text transform="translate(517.2,412.3) scale(1.15,1)" font-size="10" textLength="11.6" lengthAdjust="spacingAndGlyphs" fill="#f01890" class="ne">15</text>
<text transform="translate(544.9,412.3) scale(1.15,1)" font-size="10" textLength="12.5" lengthAdjust="spacingAndGlyphs" fill="#f01890" class="ne">20</text>
<text transform="translate(568.4,412.3) scale(1.15,1)" font-size="10" textLength="13.9" lengthAdjust="spacingAndGlyphs" fill="#f01890" class="ne">25</text>
<line x1="681.5" y1="44" x2="681.5" y2="690" stroke="#000" stroke-width="1"/>
<polyline points="681.7,44.7 652.3,55.8 647.4,44.3" stroke="#90e030" stroke-width="1.2" fill="none"/>
<circle cx="681.7" cy="44.7" r="2.6" fill="#90e030"/>
<polyline points="681.7,199.5 657.2,179.9" stroke="#e0d030" stroke-width="1.2" fill="none"/>
<circle cx="681.7" cy="199.5" r="2.6" fill="#e0d030"/>
<polyline points="681.7,319.1 694.8,291.4 706.6,296.3" stroke="#90e030" stroke-width="1.2" fill="none"/>
<circle cx="681.7" cy="319.1" r="2.6" fill="#90e030"/>
<polyline points="681.7,500.3 687.8,471.6 700.8,473.4" stroke="#90e030" stroke-width="1.2" fill="none"/>
<circle cx="681.7" cy="500.3" r="2.6" fill="#90e030"/>
<polyline points="681.7,605.3 669,577.6 681.7,572.4" stroke="#90e030" stroke-width="1.2" fill="none"/>
<circle cx="681.7" cy="605.3" r="2.6" fill="#90e030"/>
<polyline points="681.7,636.4 665.4,610 678.2,603.6" stroke="#90e030" stroke-width="1.2" fill="none"/>
<circle cx="681.7" cy="636.4" r="2.6" fill="#90e030"/>
<polyline points="681.7,650.8 664.3,625.4 675.9,618.3" stroke="#90e030" stroke-width="1.2" fill="none"/>
<circle cx="681.7" cy="650.8" r="2.6" fill="#90e030"/>
<polyline points="681.7,690.5 657.2,670.8" stroke="#e0d030" stroke-width="1.2" fill="none"/>
<circle cx="681.7" cy="690.5" r="2.6" fill="#e0d030"/>
<line x1="660.9" y1="182.8" x2="664.6" y2="178.2" stroke="#e0d030" stroke-width="1.2"/>
<line x1="662" y1="674.7" x2="665.4" y2="669.3" stroke="#e0d030" stroke-width="1.2"/>
<defs><clipPath id="hc"><rect x="728" y="45" width="179.7" height="169.4"/></clipPath></defs>
<g clip-path="url(#hc)" fill="none" stroke="#a8a8a8" stroke-width="1">
<ellipse cx="818.3" cy="130.5" rx="30" ry="28.7"/>
<ellipse cx="818.3" cy="130.5" rx="60" ry="57.4"/>
<ellipse cx="818.3" cy="130.5" rx="90.5" ry="86.6"/>
</g>
<rect x="727" y="44" width="181.7" height="171.4" fill="none" stroke="#000" stroke-width="2"/>
<line x1="728" y1="130.5" x2="908" y2="130.5" stroke="#000" stroke-width="1.5"/>
<line x1="818.3" y1="45" x2="818.3" y2="215" stroke="#000" stroke-width="1.5"/>
<path d="M728.3,128.0V133.0M738.3,128.0V133.0M815.8,53.9H820.8M748.3,128.0V133.0M815.8,63.5H820.8M758.3,128.0V133.0M815.8,73.1H820.8M768.3,128.0V133.0M815.8,82.7H820.8M778.3,128.0V133.0M815.8,92.2H820.8M788.3,128.0V133.0M815.8,101.8H820.8M798.3,128.0V133.0M815.8,111.4H820.8M808.3,128.0V133.0M815.8,120.9H820.8M828.3,128.0V133.0M815.8,140.1H820.8M838.3,128.0V133.0M815.8,149.6H820.8M848.3,128.0V133.0M815.8,159.2H820.8M858.3,128.0V133.0M815.8,168.8H820.8M868.3,128.0V133.0M815.8,178.3H820.8M878.3,128.0V133.0M815.8,187.9H820.8M888.3,128.0V133.0M815.8,197.5H820.8M898.3,128.0V133.0M815.8,207.1H820.8M908.3,128.0V133.0" stroke="#000" stroke-width="1.2"/>
<text x="732.5" y="56.6" font-size="13" textLength="12" lengthAdjust="spacingAndGlyphs" >kt</text>
<text transform="translate(797.1,150.8) rotate(-45)" font-size="12" class="ne" fill="#a0a0a0" text-anchor="middle" dominant-baseline="central" textLength="15" lengthAdjust="spacingAndGlyphs">15</text>
<text transform="translate(775.9,171.1) rotate(-45)" font-size="12" class="ne" fill="#a0a0a0" text-anchor="middle" dominant-baseline="central" textLength="15" lengthAdjust="spacingAndGlyphs">30</text>
<text transform="translate(754.7,191.4) rotate(-45)" font-size="12" class="ne" fill="#a0a0a0" text-anchor="middle" dominant-baseline="central" textLength="15" lengthAdjust="spacingAndGlyphs">45</text>
<polygon points="812.2,130.7 813.8,130.7 818.5,134.3 818.5,139.6 812.2,140.6" fill="#000"/>
<path d="M818,135.4H821M818,139.5H821" stroke="#000" stroke-width="1.1"/>
<polyline points="827.9,137.5 827.5,145.7 826.3,147.3 822.2,148.5 818.5,149.6 815.6,149.6 814.6,151.6 810.3,147.3 818.5,143 825.1,140.4 827.9,137.5" stroke="#000" stroke-width="1.2" fill="none"/>
<circle cx="828" cy="137.6" r="3" fill="#000"/>
<path d="M727.5,233V301M927.5,233V301M727.5,302V457M927.5,302V457M727.5,458V704M927.5,458V704M727,233.5H928M727,302.5H928M727,458.5H928M727,591.5H928M727,703.5H928" fill="none" stroke="#000" stroke-width="1"/>
<text transform="translate(738,253.2) scale(0.8595299445615587,1)" font-size="15" text-anchor="middle" >K</text>
<text transform="translate(874.3,253.2) scale(1.15,1)" font-size="15" textLength="17.4" lengthAdjust="spacing" >22</text>
<text transform="translate(733.7,274.8) scale(1.15,1)" font-size="15" textLength="42.2" lengthAdjust="spacing" >Totals</text><text transform="translate(790.7,274.8) scale(1.15,1)" font-size="15" textLength="46.3" lengthAdjust="spacing" >Totals</text>
<text transform="translate(874.3,274.8) scale(1.15,1)" font-size="15" textLength="17.4" lengthAdjust="spacing" >40</text>
<text transform="translate(733.7,296.3) scale(0.9435499515033928,1)" font-size="15" textLength="24.2" lengthAdjust="spacing" >PW</text><text transform="translate(768.9,296.3) scale(1.15,1)" font-size="15" textLength="35.5" lengthAdjust="spacing" >(cm)</text>
<text transform="translate(874.3,296.3) scale(1.15,1)" font-size="15" textLength="32.3" lengthAdjust="spacing" >2.54</text>
<text transform="translate(787.9,321.4) scale(1.15,1)" font-size="15" textLength="57" lengthAdjust="spacing" >Surface</text>
<text transform="translate(732.8,342.6) scale(1.15,1)" font-size="15" textLength="38.8" lengthAdjust="spacing" >Temp</text><text transform="translate(790.7,342.6) scale(1.15,1)" font-size="15" textLength="28.1" lengthAdjust="spacing" >(°C)</text>
<text transform="translate(874.3,342.6) scale(1.15,1)" font-size="15" textLength="32.3" lengthAdjust="spacing" >23.3</text>
<text transform="translate(733,364.4) scale(1.1082589740455526,1)" font-size="15" textLength="38.3" lengthAdjust="spacing" >Dewp</text><text transform="translate(788.8,364.4) scale(1.15,1)" font-size="15" textLength="28.9" lengthAdjust="spacing" >(°C)</text>
<text transform="translate(874.3,364.4) scale(1.15,1)" font-size="15" textLength="17.4" lengthAdjust="spacing" >10</text>
<text x="733.5" y="385.6" class="ne" font-size="14" font-style="italic" font-weight="bold" textLength="9" lengthAdjust="spacingAndGlyphs">θ</text>
<text x="742.8" y="388.0" class="ne" font-size="7" font-weight="bold" textLength="4.5" lengthAdjust="spacingAndGlyphs">E</text>
<text transform="translate(749,385.6) scale(1.15,1)" font-size="15" textLength="21.9" lengthAdjust="spacing" >(K)</text>
<text transform="translate(874.3,385.6) scale(1.15,1)" font-size="15" textLength="26.4" lengthAdjust="spacing" >319</text>
<text transform="translate(732.8,407.4) scale(1.15,1)" font-size="15" textLength="40.4" lengthAdjust="spacing" >Lifted</text><text transform="translate(792.6,407.4) scale(1.15,1)" font-size="15" textLength="38" lengthAdjust="spacing" >Index</text>
<text transform="translate(878.6,407.4) scale(1.0310012175704812,1)" font-size="15" text-anchor="middle" >4</text>
<text transform="translate(733.3,428.8) scale(1.0575477652188892,1)" font-size="15" textLength="40.8" lengthAdjust="spacing" >CAPE</text><text transform="translate(787.9,428.8) scale(1.15,1)" font-size="15" textLength="19.8" lengthAdjust="spacing" >(J)</text>
<text transform="translate(874.3,428.8) scale(1.15,1)" font-size="15" textLength="17.8" lengthAdjust="spacing" >24</text>
<text transform="translate(733.3,450.7) scale(1.010342950462712,1)" font-size="15" textLength="25.8" lengthAdjust="spacing" >CIN</text><text transform="translate(772.7,450.7) scale(1.15,1)" font-size="15" textLength="19.8" lengthAdjust="spacing" >(J)</text>
<text transform="translate(878.6,450.7) scale(1.0310012175704812,1)" font-size="15" text-anchor="middle" >0</text>
<text transform="translate(753.7,477.2) scale(1.15,1)" font-size="15" textLength="33.8" lengthAdjust="spacing" >Most</text><text transform="translate(805,477.2) scale(1.15,1)" font-size="15" textLength="64.4" lengthAdjust="spacing" >Unstable</text>
<text transform="translate(733.3,497.9) scale(1.15,1)" font-size="15" textLength="64.8" lengthAdjust="spacing" >Pressure</text><text transform="translate(820.2,497.9) scale(1.15,1)" font-size="15" textLength="36.3" lengthAdjust="spacing" >(mb)</text>
<text transform="translate(874.3,497.9) scale(1.15,1)" font-size="15" textLength="27.3" lengthAdjust="spacing" >996</text>
<text x="733.5" y="519.4" class="ne" font-size="14" font-style="italic" font-weight="bold" textLength="9" lengthAdjust="spacingAndGlyphs">θ</text>
<text x="742.8" y="521.8" class="ne" font-size="7" font-weight="bold" textLength="4.5" lengthAdjust="spacingAndGlyphs">E</text>
<text transform="translate(759.4,519.4) scale(1.15,1)" font-size="15" textLength="21.4" lengthAdjust="spacing" >(K)</text>
<text transform="translate(874.3,519.4) scale(1.15,1)" font-size="15" textLength="26.4" lengthAdjust="spacing" >319</text>
<text transform="translate(732.8,540.9) scale(1.15,1)" font-size="15" textLength="40.4" lengthAdjust="spacing" >Lifted</text><text transform="translate(792.6,540.9) scale(1.15,1)" font-size="15" textLength="38" lengthAdjust="spacing" >Index</text>
<text transform="translate(878.6,540.9) scale(1.0310012175704812,1)" font-size="15" text-anchor="middle" >4</text>
<text transform="translate(733.3,562.6) scale(1.0575477652188892,1)" font-size="15" textLength="40.8" lengthAdjust="spacing" >CAPE</text><text transform="translate(787.9,562.6) scale(1.15,1)" font-size="15" textLength="19.8" lengthAdjust="spacing" >(J)</text>
<text transform="translate(874.3,562.6) scale(1.15,1)" font-size="15" textLength="17.8" lengthAdjust="spacing" >24</text>
<text transform="translate(733.3,584.1) scale(1.010342950462712,1)" font-size="15" textLength="25.8" lengthAdjust="spacing" >CIN</text><text transform="translate(772.7,584.1) scale(1.15,1)" font-size="15" textLength="19.8" lengthAdjust="spacing" >(J)</text>
<text transform="translate(878.6,584.1) scale(1.0310012175704812,1)" font-size="15" text-anchor="middle" >0</text>
<text transform="translate(771.7,609.7) scale(1.15,1)" font-size="15" textLength="80.6" lengthAdjust="spacing" >Hodograph</text>
<text transform="translate(733.3,631.7) scale(0.9789674952198896,1)" font-size="15" textLength="20.8" lengthAdjust="spacing" >EH</text>
<text transform="translate(874.3,631.7) scale(1.15,1)" font-size="15" textLength="17.8" lengthAdjust="spacing" >23</text>
<text transform="translate(733.3,653.4) scale(1.036553818468115,1)" font-size="15" textLength="41.7" lengthAdjust="spacing" >SREH</text>
<text transform="translate(874.3,653.4) scale(1.15,1)" font-size="15" textLength="17.4" lengthAdjust="spacing" >19</text>
<text transform="translate(733.3,674.8) scale(1.15,1)" font-size="15" textLength="49.1" lengthAdjust="spacing" >StmDir</text>
<text transform="translate(874.3,674.8) scale(1.15,1)" font-size="15" textLength="24" lengthAdjust="spacing" >30°</text>
<text transform="translate(733.3,696.5) scale(1.15,1)" font-size="15" textLength="57.4" lengthAdjust="spacing" >StmSpd</text><text transform="translate(811.6,696.5) scale(1.15,1)" font-size="15" textLength="26.4" lengthAdjust="spacing" >(kt)</text>
<text transform="translate(878.6,696.5) scale(1.0310012175704812,1)" font-size="15" text-anchor="middle" >5</text>
<circle cx="723.4" cy="721.4" r="7.2" fill="none" stroke="#000" stroke-width="1.4"/>
<path d="M726.6,718.6 A4,4 0 1 0 726.6,724.2" fill="none" stroke="#000" stroke-width="1.4"/>
<text transform="translate(739.4,727.6) scale(1.15,1)" font-size="16" textLength="184.2" lengthAdjust="spacing" class="ft">weatheronline.co.uk</text></svg>
</body></html>
